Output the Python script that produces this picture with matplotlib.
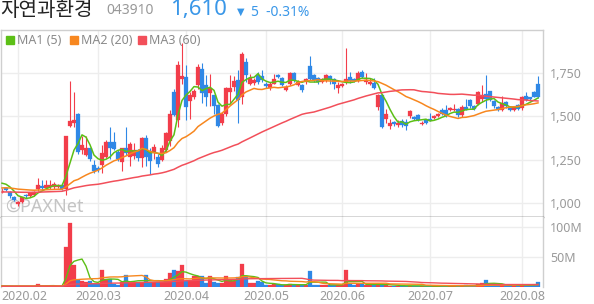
import numpy as np
import pandas as pd
import matplotlib
matplotlib.use('Agg')
import matplotlib.pyplot as plt
from matplotlib.patches import Rectangle
from matplotlib.transforms import ScaledTranslation

plt.rcParams['font.family'] = ['Noto Sans', 'DejaVu Sans']

# trading days (KRX holidays removed)
holidays = ['2020-04-15', '2020-04-30', '2020-05-01', '2020-05-05']
days = pd.bdate_range('2020-01-28', '2020-08-07')
days = days[~days.isin(pd.to_datetime(holidays))]

open_ = [1063, 1085, 1065, 1035, 995, 1008, 1045, 1040, 1048, 1078,
         1098, 1085, 1090, 1090, 1092, 1104, 1080, 1446, 1465, 1513,
         1305, 1280, 1315, 1219, 1200, 1219, 1267, 1350, 1354, 1292,
         1235, 1315, 1267, 1273, 1306, 1261, 1373, 1300, 1296, 1267,
         1250, 1306, 1356, 1642, 1480, 1715, 1729, 1588, 1615, 1681,
         1777, 1681, 1633, 1623, 1565, 1465, 1517, 1642, 1671, 1710,
         1613, 1815, 1690, 1695, 1740, 1735, 1690, 1662, 1690, 1739,
         1723, 1652, 1685, 1754, 1681, 1681, 1698, 1792, 1739, 1723,
         1700, 1710, 1735, 1719, 1665, 1677, 1700, 1729, 1715, 1704,
         1758, 1700, 1685, 1695, 1556, 1623, 1488, 1446, 1469, 1450,
         1475, 1469, 1504, 1498, 1510, 1456, 1477, 1488, 1494, 1504,
         1540, 1540, 1535, 1535, 1545, 1510, 1555, 1595, 1560, 1570,
         1600, 1630, 1645, 1590, 1555, 1540, 1585, 1555, 1538, 1565,
         1550, 1620, 1610, 1640, 1690]
high = [1085, 1095, 1070, 1040, 1010, 1035, 1050, 1060, 1070, 1142,
        1130, 1130, 1135, 1120, 1112, 1115, 1390, 1705, 1640, 1518,
        1390, 1385, 1320, 1250, 1212, 1335, 1364, 1440, 1408, 1306,
        1318, 1440, 1350, 1344, 1312, 1383, 1392, 1320, 1340, 1285,
        1335, 1410, 1540, 1660, 1820, 1925, 1796, 1640, 1660, 1806,
        1810, 1740, 1745, 1625, 1575, 1527, 1670, 1740, 1735, 1770,
        1873, 1840, 1745, 1720, 1760, 1770, 1700, 1700, 1748, 1745,
        1730, 1680, 1760, 1760, 1710, 1690, 1720, 1850, 1745, 1730,
        1725, 1745, 1740, 1725, 1700, 1695, 1896, 1756, 1725, 1765,
        1770, 1752, 1720, 1720, 1630, 1630, 1546, 1488, 1475, 1480,
        1485, 1485, 1540, 1505, 1515, 1475, 1485, 1523, 1510, 1523,
        1550, 1567, 1555, 1570, 1550, 1565, 1600, 1600, 1565, 1650,
        1680, 1740, 1650, 1595, 1560, 1620, 1590, 1560, 1560, 1575,
        1620, 1640, 1615, 1650, 1735]
low = [1055, 1070, 1030, 1012, 980, 1000, 1030, 1035, 1040, 1070,
       1075, 1078, 1082, 1082, 1085, 1075, 1046, 1440, 1440, 1285,
       1285, 1270, 1245, 1175, 1180, 1171, 1260, 1254, 1305, 1242,
       1185, 1277, 1215, 1254, 1240, 1210, 1215, 1170, 1254, 1210,
       1240, 1296, 1330, 1500, 1440, 1690, 1479, 1488, 1600, 1660,
       1580, 1560, 1560, 1512, 1440, 1450, 1500, 1580, 1650, 1460,
       1575, 1700, 1680, 1680, 1690, 1700, 1665, 1655, 1685, 1720,
       1675, 1645, 1680, 1700, 1675, 1640, 1690, 1710, 1700, 1690,
       1695, 1700, 1690, 1660, 1633, 1670, 1690, 1695, 1700, 1698,
       1720, 1690, 1680, 1660, 1540, 1435, 1460, 1427, 1445, 1440,
       1440, 1421, 1494, 1480, 1475, 1450, 1456, 1475, 1488, 1498,
       1510, 1495, 1530, 1530, 1495, 1495, 1535, 1550, 1538, 1565,
       1585, 1550, 1590, 1550, 1530, 1530, 1550, 1530, 1530, 1535,
       1535, 1590, 1595, 1610, 1605]
close = [1072, 1075, 1040, 1018, 1005, 1032, 1038, 1055, 1062, 1105,
         1085, 1102, 1104, 1108, 1104, 1082, 1386, 1475, 1482, 1293,
         1333, 1320, 1254, 1185, 1188, 1287, 1350, 1319, 1312, 1254,
         1315, 1287, 1339, 1306, 1258, 1377, 1267, 1240, 1325, 1225,
         1318, 1402, 1517, 1510, 1800, 1735, 1556, 1623, 1650, 1787,
         1633, 1613, 1662, 1561, 1446, 1517, 1662, 1665, 1704, 1594,
         1864, 1739, 1725, 1710, 1700, 1712, 1675, 1685, 1719, 1729,
         1681, 1671, 1754, 1710, 1700, 1652, 1715, 1719, 1710, 1700,
         1719, 1739, 1710, 1685, 1681, 1690, 1719, 1704, 1704, 1754,
         1729, 1712, 1700, 1665, 1623, 1440, 1517, 1460, 1454, 1465,
         1450, 1446, 1531, 1485, 1481, 1465, 1460, 1479, 1504, 1517,
         1517, 1500, 1548, 1545, 1510, 1555, 1540, 1560, 1545, 1640,
         1625, 1600, 1595, 1560, 1538, 1580, 1560, 1540, 1555, 1545,
         1615, 1595, 1600, 1615, 1610]
# volume, millions of shares
volume = [1.5, 1.2, 1.8, 1.5, 2.0, 1.3, 1.0, 1.2, 1.5, 4.5,
          2.0, 1.8, 1.5, 1.6, 1.4, 1.8, 67, 107, 37, 12,
          10, 8, 10, 4.5, 5.6, 28, 14, 14, 4.5, 3,
          8, 20, 8, 8, 8, 9, 20, 8, 8, 8,
          8, 14, 23, 29, 26, 36, 10, 10, 18, 18,
          18, 6.7, 18, 8, 6.7, 6.7, 18, 11, 10, 17,
          38, 18, 6.7, 6.7, 10, 8, 3, 3, 4.5, 4.5,
          3.5, 3, 5.6, 3.3, 4, 3, 3.5, 26, 4, 3.5,
          4, 3, 3.5, 4, 3, 3.5, 29, 5, 4, 4.5,
          5, 4, 4, 4, 4.5, 5, 3, 2.5, 2, 2,
          2, 1.8, 2.5, 1.8, 1.5, 1.5, 1.5, 1.2, 2, 1.5,
          1.8, 2, 2, 2.5, 2, 2, 3, 2.5, 2, 5,
          6, 12, 5, 3, 3, 3.5, 3, 3, 2.5, 3,
          4, 3, 3, 3.5, 8]

# sessions before the visible window (needed for the moving averages)
prior_close = [1045, 1050, 1055, 1048, 1052, 1058, 1060, 1055, 1050, 1046,
               1042, 1045, 1050, 1053, 1048, 1044, 1047, 1052, 1056, 1060,
               1058, 1054, 1050, 1047, 1045, 1049, 1053, 1057, 1055, 1051,
               1048, 1046, 1050, 1054, 1058, 1056, 1052, 1049, 1053, 1057,
               1062, 1068, 1072, 1075, 1070, 1078, 1082, 1085, 1080, 1076,
               1079, 1084, 1088, 1083, 1088, 1105, 1120, 1135, 1140]
prior_volume = [1.1, 0.9, 1.3, 1.0, 1.2, 0.8, 1.4, 1.1, 0.9, 1.0,
                1.2, 1.0, 0.8, 1.1, 1.3, 0.9, 1.0, 1.2, 1.1, 0.9,
                1.0, 1.3, 1.1, 0.8, 1.0, 1.2, 0.9, 1.1, 1.4, 1.0,
                0.9, 1.1, 1.0, 1.2, 0.8, 1.0, 1.3, 1.1, 0.9, 1.0,
                1.2, 1.1, 1.5, 1.3, 1.0, 1.2, 1.4, 1.1, 1.3, 1.6,
                1.2, 1.4, 1.8, 1.5, 1.3, 2.2, 2.5, 1.9, 1.6]

ma_windows = [5, 20, 60]
ma_labels = ['MA1 (5)', 'MA2 (20)', 'MA3 (60)']

RED = '#f23d4a'
BLUE = '#2f88e6'
MA_COLORS = ['#5cbf16', '#f7871f', '#f24f5a']
GRID = '#ededed'
TXT = '#9a9a9a'

W, H = 594, 304
fig = plt.figure(figsize=(W / 100, H / 100), dpi=100)
fig.patch.set_facecolor('white')


def fx(px):
    return px / W


def fy(py):
    return 1 - py / H


ax = fig.add_axes([fx(1), fy(217), fx(542), 187 / H])
axv = fig.add_axes([fx(1), fy(287), fx(542), 70 / H], sharex=ax)

n = len(close)
x = np.arange(n)
o = np.array(open_, float)
c = np.array(close, float)
up = c >= o
col = np.where(up, RED, BLUE)

# candles
ax.vlines(x, low, high, colors=col, linewidth=0.8, zorder=2)
body_lo = np.minimum(o, c)
body_h = np.maximum(np.abs(c - o), 5)
ax.bar(x, body_h, bottom=body_lo, width=0.78, color=col, edgecolor=col,
       linewidth=0.2, zorder=2)

# moving averages of price and volume
c_all = pd.Series(prior_close + close, dtype=float)
v_all = pd.Series(prior_volume + volume, dtype=float)
k = len(prior_close)
for w, mc in zip(ma_windows, MA_COLORS):
    ax.plot(x, c_all.rolling(w).mean().values[k:], color=mc, lw=1.1, zorder=3)
    axv.plot(x, v_all.rolling(w).mean().values[k:], color=mc, lw=1.0, zorder=3)

# volume bars
axv.bar(x, volume, width=0.78, color=col, edgecolor=col, linewidth=0.2, zorder=2)

# month ticks
month_idx = [int(np.where(days.month == m)[0][0]) for m in range(2, 9)]
month_lab = [days[i].strftime('%Y.%m') for i in month_idx]

ax.set_xlim(-0.25, 135.25)
ax.set_ylim(919, 2000)
axv.set_ylim(0, 116.7)

ax.set_yticks([1000, 1250, 1500, 1750])
ax.set_yticklabels(['1,000', '1,250', '1,500', '1,750'])
axv.set_yticks([50, 100])
axv.set_yticklabels(['50M', '100M'])
axv.set_xticks(month_idx)
axv.set_xticklabels(month_lab)
plt.setp(ax.get_xticklabels(), visible=False)

for a in (ax, axv):
    a.yaxis.tick_right()
    a.tick_params(axis='both', length=0, labelsize=9, colors=TXT, pad=5)
    a.grid(True, color=GRID, lw=1.0, zorder=0)
    a.set_axisbelow(True)
    for s in ('left', 'right', 'top', 'bottom'):
        a.spines[s].set_color('#cfcfcf')
        a.spines[s].set_linewidth(1.0)
axv.tick_params(axis='x', pad=2)
ax.spines['bottom'].set_color('#333333')
axv.spines['top'].set_visible(False)
axv.spines['bottom'].set_visible(False)

# first date label sits a bit to the right
lbl0 = axv.get_xticklabels()[0]
lbl0.set_transform(lbl0.get_transform() + ScaledTranslation(6 / 100, 0, fig.dpi_scale_trans))

# watermark
ax.text(0.008, 0.055, '\u00a9PAXNet', transform=ax.transAxes, fontsize=13,
        fontweight='bold', color='#c4c4c4', ha='left', va='center', zorder=1)

# header
fig.text(fx(0), fy(10), '자연과환경', fontsize=14.5, color='#222222',
         family=['Noto Sans CJK KR', 'DejaVu Sans'], va='center', ha='left')
fig.text(fx(106), fy(11), '043910', fontsize=10, color='#999999', va='center')
fig.text(fx(170), fy(10), '1,610', fontsize=16, color='#3a97e8', va='center')
fig.text(fx(237), fy(12), '\u25bc', fontsize=7, color='#3a97e8', va='center',
         family=['DejaVu Sans'])
fig.text(fx(251), fy(12), '5  -0.31%', fontsize=10, color='#3a97e8', va='center')

# legend
lx = [6, 70, 138]
for px, mc, lab in zip(lx, MA_COLORS, ma_labels):
    fig.patches.append(Rectangle((fx(px), fy(44)), fx(8), 8 / H,
                                 transform=fig.transFigure, color=mc))
    fig.text(fx(px + 11), fy(40), lab, fontsize=9, color='#8a8a8a', va='center')

fig.savefig('out.png', dpi=100)
